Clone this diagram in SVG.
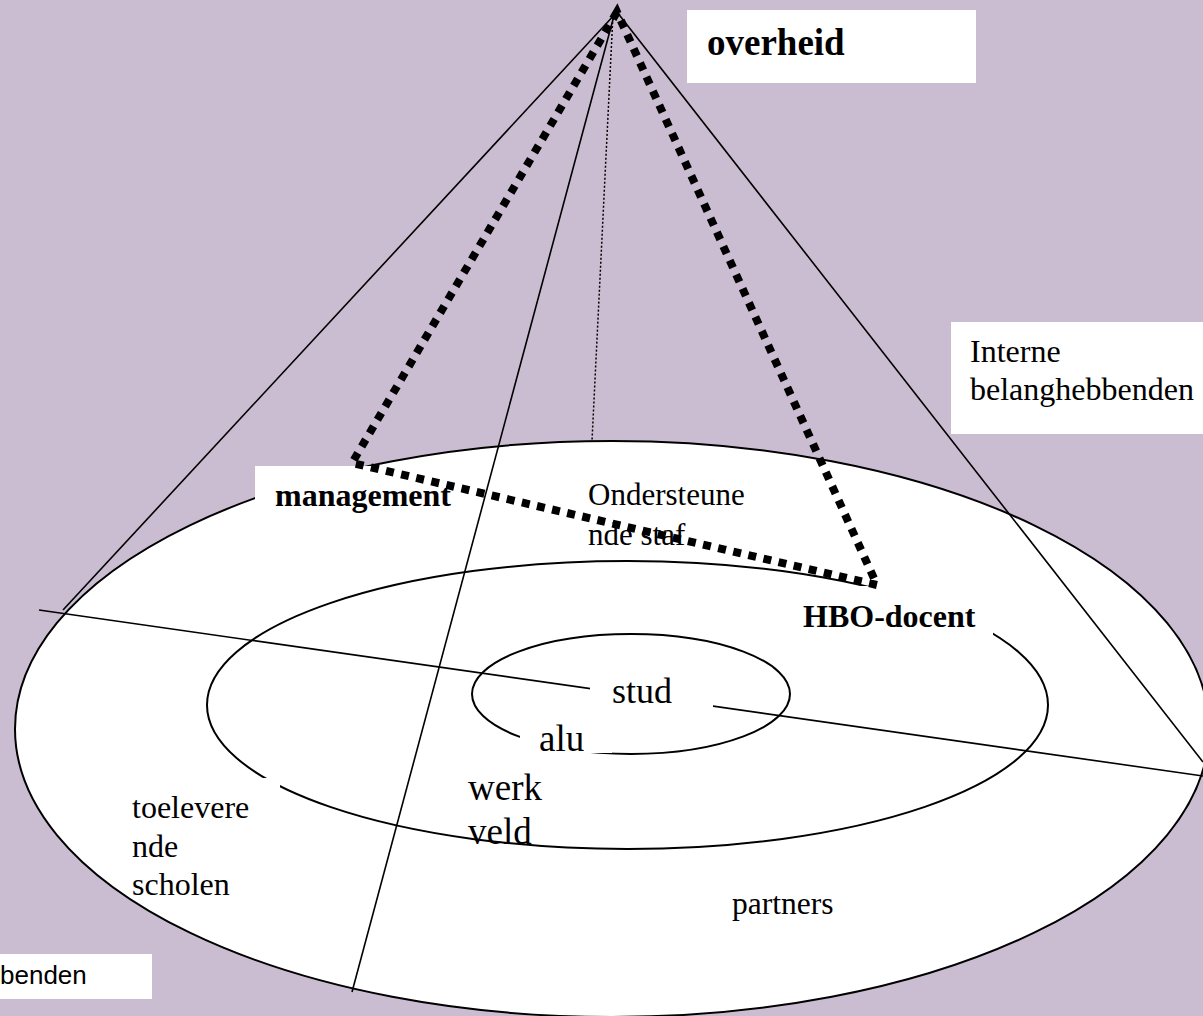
<svg xmlns="http://www.w3.org/2000/svg" width="1203" height="1016" viewBox="0 0 1203 1016">
  <style>
    .ring { fill: none; stroke: #000; stroke-width: 2; }
    .solid { stroke: #000; stroke-width: 1.6; fill: none; }
    .dots { stroke: #000; stroke-width: 1.5; stroke-dasharray: 2 2; fill: none; }
    .thick { stroke: #000; stroke-width: 8; stroke-dasharray: 8 7.5; fill: none; }
    .box { fill: #fff; stroke: none; }
    .serif { font-family: "Liberation Serif", "Times New Roman", serif; fill: #000; }
    .sans { font-family: "Liberation Sans", Arial, sans-serif; fill: #000; }
    .b { font-weight: bold; }
  </style>
  <rect x="0" y="0" width="1203" height="1016" fill="#CBBDD1"/>

  <g id="rings">
    <ellipse cx="612" cy="729" rx="597" ry="288" fill="#fff" stroke="#000" stroke-width="2"/>
    <ellipse class="ring" cx="627.5" cy="705" rx="420.5" ry="144"/>
    <ellipse class="ring" cx="631" cy="694" rx="159" ry="60"/>
  </g>

  <g id="connectors">
    <line class="solid" x1="617" y1="12" x2="63" y2="610"/>
    <line class="solid" x1="617" y1="12" x2="1203" y2="762"/>
    <line class="solid" x1="615" y1="12" x2="352" y2="992"/>
    <line class="dots" x1="613" y1="14" x2="592" y2="441"/>
    <line class="solid" x1="39" y1="610" x2="1203" y2="776"/>
  </g>

  <g id="overheid">
    <rect class="box" x="687" y="10" width="289" height="73"/>
    <text class="serif b" x="707" y="55" font-size="37">overheid</text>
  </g>

  <g id="interne-belanghebbenden">
    <rect class="box" x="951" y="322" width="252" height="112"/>
    <text class="serif" x="970" y="362" font-size="32">Interne</text>
    <text class="serif" x="970" y="400" font-size="32">belanghebbenden</text>
  </g>

  <g id="management">
    <rect class="box" x="255" y="466" width="215" height="56"/>
    <text class="serif b" x="275" y="506" font-size="32">management</text>
  </g>

  <g id="ondersteunende-staf">
    <text class="serif" x="588" y="505" font-size="31">Ondersteune</text>
    <text class="serif" x="588" y="545" font-size="31">nde staf</text>
  </g>

  <g id="hbo-docent">
    <rect class="box" x="790" y="586" width="203" height="60"/>
    <text class="serif b" x="803" y="627" font-size="32">HBO-docent</text>
  </g>

  <g id="stud">
    <rect class="box" x="590" y="648" width="123" height="66"/>
    <text class="serif" x="612" y="703" font-size="36">stud</text>
  </g>

  <g id="alu">
    <rect class="box" x="520" y="714" width="92" height="39"/>
    <text class="serif" x="539" y="751" font-size="37">alu</text>
  </g>

  <g id="werkveld">
    <text class="serif" x="468" y="800" font-size="37">werk</text>
    <text class="serif" x="468" y="844" font-size="37">veld</text>
  </g>

  <g id="toeleverende-scholen">
    <rect class="box" x="128" y="778" width="152" height="90"/>
    <text class="serif" x="132" y="818" font-size="32">toelevere</text>
    <text class="serif" x="132" y="857" font-size="32">nde</text>
    <text class="serif" x="132" y="895" font-size="32">scholen</text>
  </g>

  <g id="partners">
    <text class="serif" x="732" y="914" font-size="31.5">partners</text>
  </g>

  <g id="externe">
    <rect class="box" x="0" y="954" width="152" height="45"/>
    <text class="sans" x="0" y="984" font-size="26">benden</text>
  </g>

  <g id="triangle">
    <path class="thick" d="M617,12 L352,463 L877,585 Z"/>
  </g>
</svg>
